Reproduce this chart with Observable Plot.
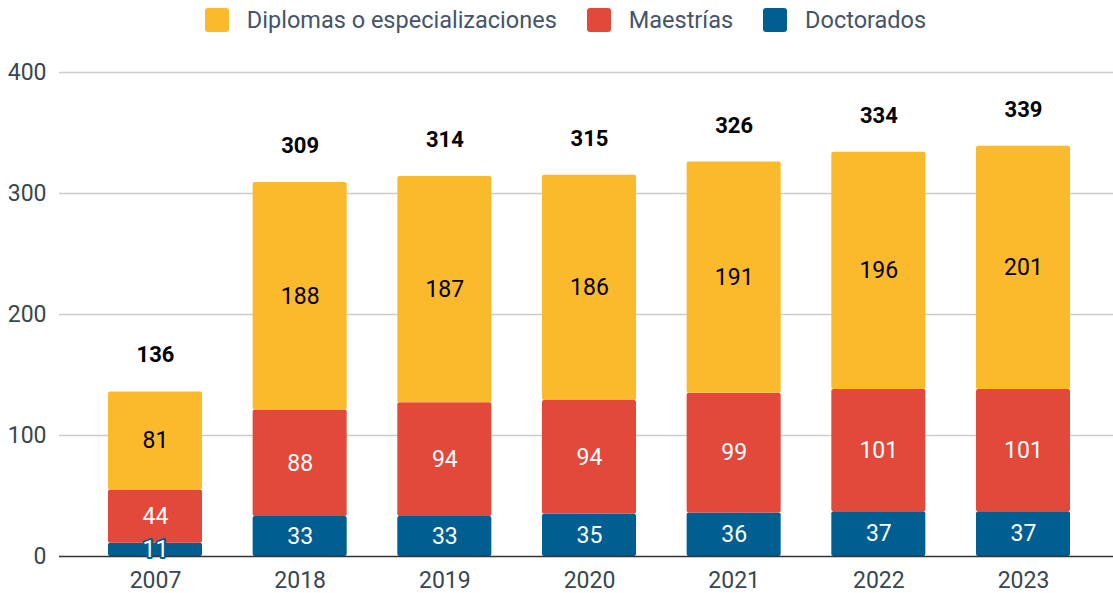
<!DOCTYPE html>
<html>
<head>
<meta charset="utf-8">
<script src="https://cdn.jsdelivr.net/npm/d3@7"></script>
<script src="https://cdn.jsdelivr.net/npm/@observablehq/plot@0.6"></script>
<style>
  html, body { margin: 0; padding: 0; background: #fff; }
  body { width: 1113px; height: 593px; overflow: hidden; font-family: Roboto, "Noto Sans", sans-serif; }
  #legend { height: 40px; display: flex; justify-content: center; align-items: center; font-size: 23.5px; color: #44546a; padding-left: 18px; box-sizing: border-box; }
  .item { display: flex; align-items: center; margin: 0 15px; }
  .sw { width: 24px; height: 24px; border-radius: 3px; margin-right: 18px; }
</style>
</head>
<body>
<div id="legend"></div>
<div id="chart"></div>
<script>
const years = ["2007", "2018", "2019", "2020", "2021", "2022", "2023"];
const doctorados = [11, 33, 33, 35, 36, 37, 37];
const maestrias = [44, 88, 94, 94, 99, 101, 101];
const diplomas = [81, 188, 187, 186, 191, 196, 201];
const seriesNames = ["Diplomas o especializaciones", "Maestrías", "Doctorados"];
const seriesColors = ["#FBB92C", "#E2493A", "#005E90"];
const yTicks = [0, 100, 200, 300, 400];

const data = [];
years.forEach((y, i) => {
  data.push({year: y, serie: "Doctorados", value: doctorados[i]});
  data.push({year: y, serie: "Maestrías", value: maestrias[i]});
  data.push({year: y, serie: "Diplomas o especializaciones", value: diplomas[i]});
});
const totals = years.map((y, i) => ({year: y, total: doctorados[i] + maestrias[i] + diplomas[i]}));

const legend = document.getElementById("legend");
seriesNames.forEach((n, i) => {
  const it = document.createElement("div");
  it.className = "item";
  it.innerHTML = `<span class="sw" style="background:${seriesColors[i]}"></span><span>${n}</span>`;
  legend.appendChild(it);
});

const stackOrder = ["Doctorados", "Maestrías", "Diplomas o especializaciones"];
const stackOpts = {x: "year", y: "value", z: "serie", order: stackOrder};
const isDip = d => d.serie === "Diplomas o especializaciones";
const isSmall = d => !isDip(d) && d.value < 20;

const chart = Plot.plot({
  width: 1113,
  height: 553,
  marginTop: 32,
  marginBottom: 37,
  marginLeft: 59,
  marginRight: 0,
  style: {fontFamily: "Roboto, 'Noto Sans', sans-serif", background: "#fff"},
  x: {domain: years, range: [59, 1119], round: false, paddingInner: 0.35, paddingOuter: 0.3386},
  y: {domain: [0, 400]},
  color: {domain: seriesNames, range: seriesColors},
  marks: [
    Plot.ruleY(yTicks.filter(d => d > 0), {stroke: "#cccccc", strokeWidth: 1.3}),
    Plot.barY(data, Plot.stackY({...stackOpts, fill: "serie", rx: 2})),
    Plot.ruleY([0], {stroke: "#333333", strokeWidth: 1.5}),
    Plot.axisY({ticks: yTicks, tickSize: 0, tickPadding: 13, fontSize: 23, color: "#37474f", label: null}),
    Plot.axisX({tickSize: 0, tickPadding: 15, fontSize: 23, color: "#37474f", label: null}),
    Plot.text(data, Plot.stackY({...stackOpts, text: d => isDip(d) ? String(d.value) : "", fill: "#000", fontSize: 23})),
    Plot.text(data, Plot.stackY({...stackOpts, text: d => (!isDip(d) && !isSmall(d)) ? String(d.value) : "", fill: "#fff", fontSize: 23})),
    Plot.text(data, Plot.stackY({...stackOpts, text: d => isSmall(d) ? String(d.value) : "", fill: "#fff", stroke: "#005E90", strokeWidth: 4, fontSize: 23})),
    Plot.text(totals, {x: "year", y: "total", text: "total", dy: -36.5, fontSize: 22, fontWeight: "bold", fill: "#000"})
  ]
});
document.getElementById("chart").appendChild(chart);
</script>
</body>
</html>
